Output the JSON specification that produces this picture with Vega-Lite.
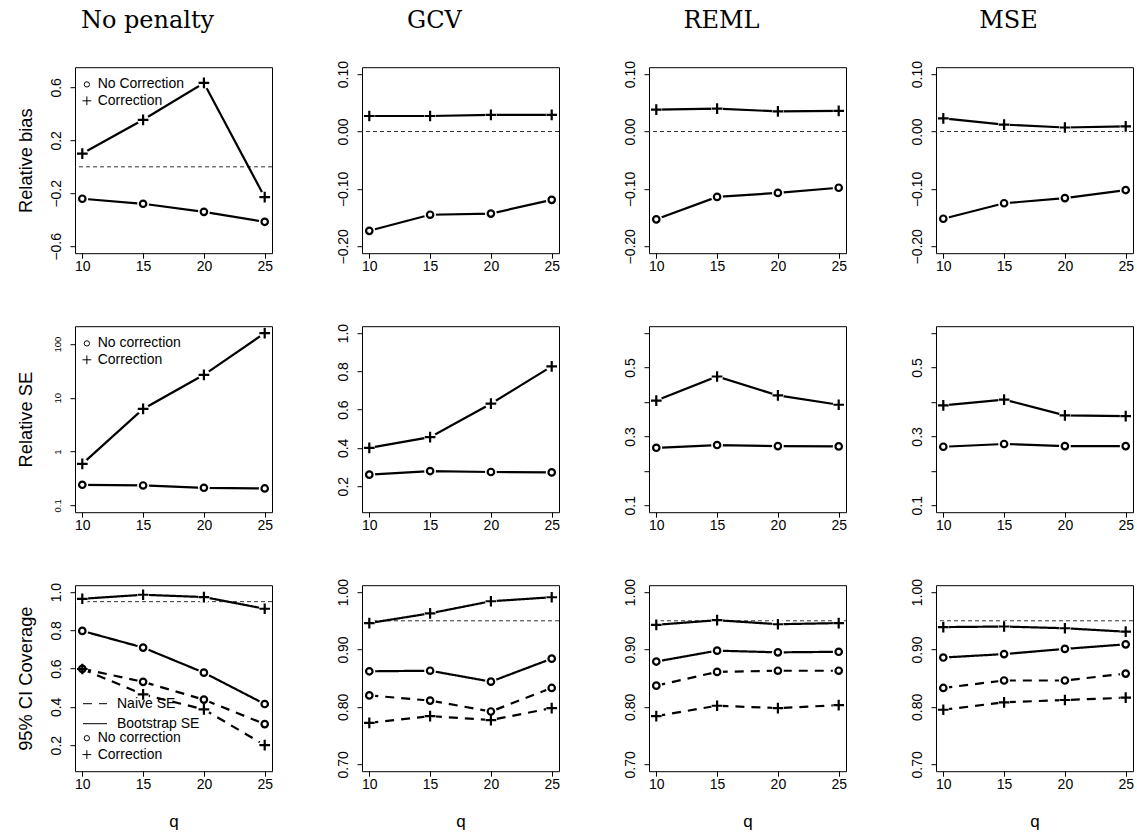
{
"$schema":"https://vega.github.io/schema/vega-lite/v6.json",
"padding":{"left":15,"top":7.2,"right":6,"bottom":3},
"data":{"values":[
{"measure":"bias","method":"No penalty","q":10,"value":-0.241,"corr":"No correction","se":"Bootstrap SE"},
{"measure":"bias","method":"No penalty","q":15,"value":-0.279,"corr":"No correction","se":"Bootstrap SE"},
{"measure":"bias","method":"No penalty","q":20,"value":-0.340,"corr":"No correction","se":"Bootstrap SE"},
{"measure":"bias","method":"No penalty","q":25,"value":-0.415,"corr":"No correction","se":"Bootstrap SE"},
{"measure":"bias","method":"No penalty","q":10,"value":0.100,"corr":"Correction","se":"Bootstrap SE"},
{"measure":"bias","method":"No penalty","q":15,"value":0.355,"corr":"Correction","se":"Bootstrap SE"},
{"measure":"bias","method":"No penalty","q":20,"value":0.633,"corr":"Correction","se":"Bootstrap SE"},
{"measure":"bias","method":"No penalty","q":25,"value":-0.229,"corr":"Correction","se":"Bootstrap SE"},
{"measure":"bias","method":"GCV","q":10,"value":-0.173,"corr":"No correction","se":"Bootstrap SE"},
{"measure":"bias","method":"GCV","q":15,"value":-0.145,"corr":"No correction","se":"Bootstrap SE"},
{"measure":"bias","method":"GCV","q":20,"value":-0.143,"corr":"No correction","se":"Bootstrap SE"},
{"measure":"bias","method":"GCV","q":25,"value":-0.119,"corr":"No correction","se":"Bootstrap SE"},
{"measure":"bias","method":"GCV","q":10,"value":0.027,"corr":"Correction","se":"Bootstrap SE"},
{"measure":"bias","method":"GCV","q":15,"value":0.027,"corr":"Correction","se":"Bootstrap SE"},
{"measure":"bias","method":"GCV","q":20,"value":0.029,"corr":"Correction","se":"Bootstrap SE"},
{"measure":"bias","method":"GCV","q":25,"value":0.029,"corr":"Correction","se":"Bootstrap SE"},
{"measure":"bias","method":"REML","q":10,"value":-0.153,"corr":"No correction","se":"Bootstrap SE"},
{"measure":"bias","method":"REML","q":15,"value":-0.114,"corr":"No correction","se":"Bootstrap SE"},
{"measure":"bias","method":"REML","q":20,"value":-0.107,"corr":"No correction","se":"Bootstrap SE"},
{"measure":"bias","method":"REML","q":25,"value":-0.098,"corr":"No correction","se":"Bootstrap SE"},
{"measure":"bias","method":"REML","q":10,"value":0.038,"corr":"Correction","se":"Bootstrap SE"},
{"measure":"bias","method":"REML","q":15,"value":0.040,"corr":"Correction","se":"Bootstrap SE"},
{"measure":"bias","method":"REML","q":20,"value":0.035,"corr":"Correction","se":"Bootstrap SE"},
{"measure":"bias","method":"REML","q":25,"value":0.036,"corr":"Correction","se":"Bootstrap SE"},
{"measure":"bias","method":"MSE","q":10,"value":-0.152,"corr":"No correction","se":"Bootstrap SE"},
{"measure":"bias","method":"MSE","q":15,"value":-0.125,"corr":"No correction","se":"Bootstrap SE"},
{"measure":"bias","method":"MSE","q":20,"value":-0.116,"corr":"No correction","se":"Bootstrap SE"},
{"measure":"bias","method":"MSE","q":25,"value":-0.102,"corr":"No correction","se":"Bootstrap SE"},
{"measure":"bias","method":"MSE","q":10,"value":0.023,"corr":"Correction","se":"Bootstrap SE"},
{"measure":"bias","method":"MSE","q":15,"value":0.012,"corr":"Correction","se":"Bootstrap SE"},
{"measure":"bias","method":"MSE","q":20,"value":0.007,"corr":"Correction","se":"Bootstrap SE"},
{"measure":"bias","method":"MSE","q":25,"value":0.009,"corr":"Correction","se":"Bootstrap SE"},
{"measure":"se","method":"No penalty","q":10,"value":0.241,"corr":"No correction","se":"Bootstrap SE"},
{"measure":"se","method":"No penalty","q":15,"value":0.234,"corr":"No correction","se":"Bootstrap SE"},
{"measure":"se","method":"No penalty","q":20,"value":0.212,"corr":"No correction","se":"Bootstrap SE"},
{"measure":"se","method":"No penalty","q":25,"value":0.206,"corr":"No correction","se":"Bootstrap SE"},
{"measure":"se","method":"No penalty","q":10,"value":0.589,"corr":"Correction","se":"Bootstrap SE"},
{"measure":"se","method":"No penalty","q":15,"value":6.21,"corr":"Correction","se":"Bootstrap SE"},
{"measure":"se","method":"No penalty","q":20,"value":26.8,"corr":"Correction","se":"Bootstrap SE"},
{"measure":"se","method":"No penalty","q":25,"value":160,"corr":"Correction","se":"Bootstrap SE"},
{"measure":"se","method":"GCV","q":10,"value":0.260,"corr":"No correction","se":"Bootstrap SE"},
{"measure":"se","method":"GCV","q":15,"value":0.279,"corr":"No correction","se":"Bootstrap SE"},
{"measure":"se","method":"GCV","q":20,"value":0.274,"corr":"No correction","se":"Bootstrap SE"},
{"measure":"se","method":"GCV","q":25,"value":0.272,"corr":"No correction","se":"Bootstrap SE"},
{"measure":"se","method":"GCV","q":10,"value":0.400,"corr":"Correction","se":"Bootstrap SE"},
{"measure":"se","method":"GCV","q":15,"value":0.456,"corr":"Correction","se":"Bootstrap SE"},
{"measure":"se","method":"GCV","q":20,"value":0.631,"corr":"Correction","se":"Bootstrap SE"},
{"measure":"se","method":"GCV","q":25,"value":0.826,"corr":"Correction","se":"Bootstrap SE"},
{"measure":"se","method":"REML","q":10,"value":0.267,"corr":"No correction","se":"Bootstrap SE"},
{"measure":"se","method":"REML","q":15,"value":0.275,"corr":"No correction","se":"Bootstrap SE"},
{"measure":"se","method":"REML","q":20,"value":0.272,"corr":"No correction","se":"Bootstrap SE"},
{"measure":"se","method":"REML","q":25,"value":0.271,"corr":"No correction","se":"Bootstrap SE"},
{"measure":"se","method":"REML","q":10,"value":0.404,"corr":"Correction","se":"Bootstrap SE"},
{"measure":"se","method":"REML","q":15,"value":0.474,"corr":"Correction","se":"Bootstrap SE"},
{"measure":"se","method":"REML","q":20,"value":0.419,"corr":"Correction","se":"Bootstrap SE"},
{"measure":"se","method":"REML","q":25,"value":0.392,"corr":"Correction","se":"Bootstrap SE"},
{"measure":"se","method":"MSE","q":10,"value":0.270,"corr":"No correction","se":"Bootstrap SE"},
{"measure":"se","method":"MSE","q":15,"value":0.278,"corr":"No correction","se":"Bootstrap SE"},
{"measure":"se","method":"MSE","q":20,"value":0.272,"corr":"No correction","se":"Bootstrap SE"},
{"measure":"se","method":"MSE","q":25,"value":0.272,"corr":"No correction","se":"Bootstrap SE"},
{"measure":"se","method":"MSE","q":10,"value":0.390,"corr":"Correction","se":"Bootstrap SE"},
{"measure":"se","method":"MSE","q":15,"value":0.407,"corr":"Correction","se":"Bootstrap SE"},
{"measure":"se","method":"MSE","q":20,"value":0.361,"corr":"Correction","se":"Bootstrap SE"},
{"measure":"se","method":"MSE","q":25,"value":0.359,"corr":"Correction","se":"Bootstrap SE"},
{"measure":"cov","method":"No penalty","q":10,"value":0.965,"corr":"Correction","se":"Bootstrap SE"},
{"measure":"cov","method":"No penalty","q":15,"value":0.986,"corr":"Correction","se":"Bootstrap SE"},
{"measure":"cov","method":"No penalty","q":20,"value":0.974,"corr":"Correction","se":"Bootstrap SE"},
{"measure":"cov","method":"No penalty","q":25,"value":0.913,"corr":"Correction","se":"Bootstrap SE"},
{"measure":"cov","method":"No penalty","q":10,"value":0.797,"corr":"No correction","se":"Bootstrap SE"},
{"measure":"cov","method":"No penalty","q":15,"value":0.710,"corr":"No correction","se":"Bootstrap SE"},
{"measure":"cov","method":"No penalty","q":20,"value":0.579,"corr":"No correction","se":"Bootstrap SE"},
{"measure":"cov","method":"No penalty","q":25,"value":0.415,"corr":"No correction","se":"Bootstrap SE"},
{"measure":"cov","method":"No penalty","q":10,"value":0.599,"corr":"No correction","se":"Naive SE"},
{"measure":"cov","method":"No penalty","q":15,"value":0.531,"corr":"No correction","se":"Naive SE"},
{"measure":"cov","method":"No penalty","q":20,"value":0.438,"corr":"No correction","se":"Naive SE"},
{"measure":"cov","method":"No penalty","q":25,"value":0.310,"corr":"No correction","se":"Naive SE"},
{"measure":"cov","method":"No penalty","q":10,"value":0.598,"corr":"Correction","se":"Naive SE"},
{"measure":"cov","method":"No penalty","q":15,"value":0.465,"corr":"Correction","se":"Naive SE"},
{"measure":"cov","method":"No penalty","q":20,"value":0.387,"corr":"Correction","se":"Naive SE"},
{"measure":"cov","method":"No penalty","q":25,"value":0.200,"corr":"Correction","se":"Naive SE"},
{"measure":"cov","method":"GCV","q":10,"value":0.946,"corr":"Correction","se":"Bootstrap SE"},
{"measure":"cov","method":"GCV","q":15,"value":0.963,"corr":"Correction","se":"Bootstrap SE"},
{"measure":"cov","method":"GCV","q":20,"value":0.984,"corr":"Correction","se":"Bootstrap SE"},
{"measure":"cov","method":"GCV","q":25,"value":0.991,"corr":"Correction","se":"Bootstrap SE"},
{"measure":"cov","method":"GCV","q":10,"value":0.862,"corr":"No correction","se":"Bootstrap SE"},
{"measure":"cov","method":"GCV","q":15,"value":0.863,"corr":"No correction","se":"Bootstrap SE"},
{"measure":"cov","method":"GCV","q":20,"value":0.844,"corr":"No correction","se":"Bootstrap SE"},
{"measure":"cov","method":"GCV","q":25,"value":0.884,"corr":"No correction","se":"Bootstrap SE"},
{"measure":"cov","method":"GCV","q":10,"value":0.820,"corr":"No correction","se":"Naive SE"},
{"measure":"cov","method":"GCV","q":15,"value":0.811,"corr":"No correction","se":"Naive SE"},
{"measure":"cov","method":"GCV","q":20,"value":0.792,"corr":"No correction","se":"Naive SE"},
{"measure":"cov","method":"GCV","q":25,"value":0.833,"corr":"No correction","se":"Naive SE"},
{"measure":"cov","method":"GCV","q":10,"value":0.772,"corr":"Correction","se":"Naive SE"},
{"measure":"cov","method":"GCV","q":15,"value":0.784,"corr":"Correction","se":"Naive SE"},
{"measure":"cov","method":"GCV","q":20,"value":0.777,"corr":"Correction","se":"Naive SE"},
{"measure":"cov","method":"GCV","q":25,"value":0.798,"corr":"Correction","se":"Naive SE"},
{"measure":"cov","method":"REML","q":10,"value":0.943,"corr":"Correction","se":"Bootstrap SE"},
{"measure":"cov","method":"REML","q":15,"value":0.951,"corr":"Correction","se":"Bootstrap SE"},
{"measure":"cov","method":"REML","q":20,"value":0.944,"corr":"Correction","se":"Bootstrap SE"},
{"measure":"cov","method":"REML","q":25,"value":0.946,"corr":"Correction","se":"Bootstrap SE"},
{"measure":"cov","method":"REML","q":10,"value":0.879,"corr":"No correction","se":"Bootstrap SE"},
{"measure":"cov","method":"REML","q":15,"value":0.898,"corr":"No correction","se":"Bootstrap SE"},
{"measure":"cov","method":"REML","q":20,"value":0.895,"corr":"No correction","se":"Bootstrap SE"},
{"measure":"cov","method":"REML","q":25,"value":0.896,"corr":"No correction","se":"Bootstrap SE"},
{"measure":"cov","method":"REML","q":10,"value":0.837,"corr":"No correction","se":"Naive SE"},
{"measure":"cov","method":"REML","q":15,"value":0.861,"corr":"No correction","se":"Naive SE"},
{"measure":"cov","method":"REML","q":20,"value":0.863,"corr":"No correction","se":"Naive SE"},
{"measure":"cov","method":"REML","q":25,"value":0.863,"corr":"No correction","se":"Naive SE"},
{"measure":"cov","method":"REML","q":10,"value":0.784,"corr":"Correction","se":"Naive SE"},
{"measure":"cov","method":"REML","q":15,"value":0.802,"corr":"Correction","se":"Naive SE"},
{"measure":"cov","method":"REML","q":20,"value":0.798,"corr":"Correction","se":"Naive SE"},
{"measure":"cov","method":"REML","q":25,"value":0.803,"corr":"Correction","se":"Naive SE"},
{"measure":"cov","method":"MSE","q":10,"value":0.939,"corr":"Correction","se":"Bootstrap SE"},
{"measure":"cov","method":"MSE","q":15,"value":0.940,"corr":"Correction","se":"Bootstrap SE"},
{"measure":"cov","method":"MSE","q":20,"value":0.937,"corr":"Correction","se":"Bootstrap SE"},
{"measure":"cov","method":"MSE","q":25,"value":0.931,"corr":"Correction","se":"Bootstrap SE"},
{"measure":"cov","method":"MSE","q":10,"value":0.886,"corr":"No correction","se":"Bootstrap SE"},
{"measure":"cov","method":"MSE","q":15,"value":0.892,"corr":"No correction","se":"Bootstrap SE"},
{"measure":"cov","method":"MSE","q":20,"value":0.901,"corr":"No correction","se":"Bootstrap SE"},
{"measure":"cov","method":"MSE","q":25,"value":0.909,"corr":"No correction","se":"Bootstrap SE"},
{"measure":"cov","method":"MSE","q":10,"value":0.833,"corr":"No correction","se":"Naive SE"},
{"measure":"cov","method":"MSE","q":15,"value":0.846,"corr":"No correction","se":"Naive SE"},
{"measure":"cov","method":"MSE","q":20,"value":0.846,"corr":"No correction","se":"Naive SE"},
{"measure":"cov","method":"MSE","q":25,"value":0.858,"corr":"No correction","se":"Naive SE"},
{"measure":"cov","method":"MSE","q":10,"value":0.795,"corr":"Correction","se":"Naive SE"},
{"measure":"cov","method":"MSE","q":15,"value":0.808,"corr":"Correction","se":"Naive SE"},
{"measure":"cov","method":"MSE","q":20,"value":0.812,"corr":"Correction","se":"Naive SE"},
{"measure":"cov","method":"MSE","q":25,"value":0.816,"corr":"Correction","se":"Naive SE"}
]},
"columns":4,
"spacing":{"row":73,"column":90},
"bounds":"flush",
"resolve":{"scale":{"x":"independent","y":"independent","shape":"independent","strokeDash":"independent"},"legend":{"shape":"independent","strokeDash":"independent"}},
"concat":[
{"width":197,"height":186,"title":{"text":"No penalty","offset":34.5},"layer":[
 {"data":{"values":[{}]},"mark":{"type":"rule","strokeDash":[4,3],"strokeWidth":1,"color":"#333"},"encoding":{"y":{"datum":0}}},
 {"transform":[{"filter":"datum.measure=='bias' && datum.method=='No penalty'"}],
  "encoding":{"x":{"field":"q","type":"quantitative","scale":{"domain":[9.4,25.6],"nice":false,"zero":false},"axis":{"values":[10,15,20,25],"title":null}},
   "y":{"field":"value","type":"quantitative","scale":{"domain":[-0.652,0.752],"nice":false,"zero":false},"axis":{"values":[-0.6,-0.4,-0.2,0,0.2,0.4,0.6],"format":".1f","labelExpr":"(datum.value==-0.4||datum.value==0||datum.value==0.4)?'':datum.label","title":"Relative bias"}}},
  "layer":[
   {"mark":{"type":"line","color":"black","strokeWidth":2.2},"encoding":{"detail":{"field":"corr"}}},
   {"mark":{"type":"circle","color":"white","size":140,"opacity":1}},
   {"mark":{"type":"point","filled":false,"color":"black","strokeWidth":2.2,"size":42,"opacity":1},"encoding":{"shape":{"field":"corr","type":"nominal","scale":{"domain":["No correction","Correction"],"range":["circle","M-1.65,0L1.65,0M0,-1.65L0,1.65"]},"legend":{"title":null,"orient":"none","legendX":4.85,"legendY":10.2,"labelOffset":3.85,"labelExpr":"datum.label=='No correction'?'No Correction':datum.label"}}}}
  ]}
]},
{"width":197,"height":186,"title":{"text":"GCV","offset":27.8},"layer":[
 {"data":{"values":[{}]},"mark":{"type":"rule","strokeDash":[4,3],"strokeWidth":1,"color":"#333"},"encoding":{"y":{"datum":0}}},
 {"transform":[{"filter":"datum.measure=='bias' && datum.method=='GCV'"}],
  "encoding":{"x":{"field":"q","type":"quantitative","scale":{"domain":[9.4,25.6],"nice":false,"zero":false},"axis":{"values":[10,15,20,25],"title":null}},
   "y":{"field":"value","type":"quantitative","scale":{"domain":[-0.212,0.112],"nice":false,"zero":false},"axis":{"values":[-0.2,-0.15,-0.1,-0.05,0,0.05,0.1],"format":".2f","labelExpr":"(datum.value==-0.15||datum.value==-0.05||datum.value==0.05)?'':datum.label","title":null}}},
  "layer":[
   {"mark":{"type":"line","color":"black","strokeWidth":2.2},"encoding":{"detail":{"field":"corr"}}},
   {"mark":{"type":"circle","color":"white","size":140,"opacity":1}},
   {"mark":{"type":"point","filled":false,"color":"black","strokeWidth":2.2,"size":42,"opacity":1},"encoding":{"shape":{"field":"corr","type":"nominal","scale":{"domain":["No correction","Correction"],"range":["circle","M-1.65,0L1.65,0M0,-1.65L0,1.65"]},"legend":null}}}
  ]}
]},
{"width":197,"height":186,"title":{"text":"REML","offset":27.8},"layer":[
 {"data":{"values":[{}]},"mark":{"type":"rule","strokeDash":[4,3],"strokeWidth":1,"color":"#333"},"encoding":{"y":{"datum":0}}},
 {"transform":[{"filter":"datum.measure=='bias' && datum.method=='REML'"}],
  "encoding":{"x":{"field":"q","type":"quantitative","scale":{"domain":[9.4,25.6],"nice":false,"zero":false},"axis":{"values":[10,15,20,25],"title":null}},
   "y":{"field":"value","type":"quantitative","scale":{"domain":[-0.212,0.112],"nice":false,"zero":false},"axis":{"values":[-0.2,-0.15,-0.1,-0.05,0,0.05,0.1],"format":".2f","labelExpr":"(datum.value==-0.15||datum.value==-0.05||datum.value==0.05)?'':datum.label","title":null}}},
  "layer":[
   {"mark":{"type":"line","color":"black","strokeWidth":2.2},"encoding":{"detail":{"field":"corr"}}},
   {"mark":{"type":"circle","color":"white","size":140,"opacity":1}},
   {"mark":{"type":"point","filled":false,"color":"black","strokeWidth":2.2,"size":42,"opacity":1},"encoding":{"shape":{"field":"corr","type":"nominal","scale":{"domain":["No correction","Correction"],"range":["circle","M-1.65,0L1.65,0M0,-1.65L0,1.65"]},"legend":null}}}
  ]}
]},
{"width":197,"height":186,"title":{"text":"MSE","offset":27.8},"layer":[
 {"data":{"values":[{}]},"mark":{"type":"rule","strokeDash":[4,3],"strokeWidth":1,"color":"#333"},"encoding":{"y":{"datum":0}}},
 {"transform":[{"filter":"datum.measure=='bias' && datum.method=='MSE'"}],
  "encoding":{"x":{"field":"q","type":"quantitative","scale":{"domain":[9.4,25.6],"nice":false,"zero":false},"axis":{"values":[10,15,20,25],"title":null}},
   "y":{"field":"value","type":"quantitative","scale":{"domain":[-0.212,0.112],"nice":false,"zero":false},"axis":{"values":[-0.2,-0.15,-0.1,-0.05,0,0.05,0.1],"format":".2f","labelExpr":"(datum.value==-0.15||datum.value==-0.05||datum.value==0.05)?'':datum.label","title":null}}},
  "layer":[
   {"mark":{"type":"line","color":"black","strokeWidth":2.2},"encoding":{"detail":{"field":"corr"}}},
   {"mark":{"type":"circle","color":"white","size":140,"opacity":1}},
   {"mark":{"type":"point","filled":false,"color":"black","strokeWidth":2.2,"size":42,"opacity":1},"encoding":{"shape":{"field":"corr","type":"nominal","scale":{"domain":["No correction","Correction"],"range":["circle","M-1.65,0L1.65,0M0,-1.65L0,1.65"]},"legend":null}}}
  ]}
]},
{"width":197,"height":186,"transform":[{"filter":"datum.measure=='se' && datum.method=='No penalty'"}],
  "encoding":{"x":{"field":"q","type":"quantitative","scale":{"domain":[9.4,25.6],"nice":false,"zero":false},"axis":{"values":[10,15,20,25],"title":null}},
   "y":{"field":"value","type":"quantitative","scale":{"type":"log","domain":[0.0745,214.8],"nice":false,"zero":false},"axis":{"values":[0.1,1,10,100],"format":"~g","labelFontSize":9.5,"title":"Relative SE"}}},
  "layer":[
   {"mark":{"type":"line","color":"black","strokeWidth":2.2},"encoding":{"detail":{"field":"corr"}}},
   {"mark":{"type":"circle","color":"white","size":140,"opacity":1}},
   {"mark":{"type":"point","filled":false,"color":"black","strokeWidth":2.2,"size":42,"opacity":1},"encoding":{"shape":{"field":"corr","type":"nominal","scale":{"domain":["No correction","Correction"],"range":["circle","M-1.65,0L1.65,0M0,-1.65L0,1.65"]},"legend":{"title":null,"orient":"none","legendX":4.85,"legendY":10.2,"labelOffset":3.85}}}}
  ]},
{"width":197,"height":186,"transform":[{"filter":"datum.measure=='se' && datum.method=='GCV'"}],
  "encoding":{"x":{"field":"q","type":"quantitative","scale":{"domain":[9.4,25.6],"nice":false,"zero":false},"axis":{"values":[10,15,20,25],"title":null}},
   "y":{"field":"value","type":"quantitative","scale":{"domain":[0.064,1.036],"nice":false,"zero":false},"axis":{"values":[0.2,0.4,0.6,0.8,1.0],"format":".1f","title":null}}},
  "layer":[
   {"mark":{"type":"line","color":"black","strokeWidth":2.2},"encoding":{"detail":{"field":"corr"}}},
   {"mark":{"type":"circle","color":"white","size":140,"opacity":1}},
   {"mark":{"type":"point","filled":false,"color":"black","strokeWidth":2.2,"size":42,"opacity":1},"encoding":{"shape":{"field":"corr","type":"nominal","scale":{"domain":["No correction","Correction"],"range":["circle","M-1.65,0L1.65,0M0,-1.65L0,1.65"]},"legend":null}}}
  ]},
{"width":197,"height":186,"transform":[{"filter":"datum.measure=='se' && datum.method=='REML'"}],
  "encoding":{"x":{"field":"q","type":"quantitative","scale":{"domain":[9.4,25.6],"nice":false,"zero":false},"axis":{"values":[10,15,20,25],"title":null}},
   "y":{"field":"value","type":"quantitative","scale":{"domain":[0.08,0.62],"nice":false,"zero":false},"axis":{"values":[0.1,0.2,0.3,0.4,0.5,0.6],"format":".1f","labelExpr":"(datum.value==0.2||datum.value==0.4||datum.value==0.6)?'':datum.label","title":null}}},
  "layer":[
   {"mark":{"type":"line","color":"black","strokeWidth":2.2},"encoding":{"detail":{"field":"corr"}}},
   {"mark":{"type":"circle","color":"white","size":140,"opacity":1}},
   {"mark":{"type":"point","filled":false,"color":"black","strokeWidth":2.2,"size":42,"opacity":1},"encoding":{"shape":{"field":"corr","type":"nominal","scale":{"domain":["No correction","Correction"],"range":["circle","M-1.65,0L1.65,0M0,-1.65L0,1.65"]},"legend":null}}}
  ]},
{"width":197,"height":186,"transform":[{"filter":"datum.measure=='se' && datum.method=='MSE'"}],
  "encoding":{"x":{"field":"q","type":"quantitative","scale":{"domain":[9.4,25.6],"nice":false,"zero":false},"axis":{"values":[10,15,20,25],"title":null}},
   "y":{"field":"value","type":"quantitative","scale":{"domain":[0.08,0.62],"nice":false,"zero":false},"axis":{"values":[0.1,0.2,0.3,0.4,0.5,0.6],"format":".1f","labelExpr":"(datum.value==0.2||datum.value==0.4||datum.value==0.6)?'':datum.label","title":null}}},
  "layer":[
   {"mark":{"type":"line","color":"black","strokeWidth":2.2},"encoding":{"detail":{"field":"corr"}}},
   {"mark":{"type":"circle","color":"white","size":140,"opacity":1}},
   {"mark":{"type":"point","filled":false,"color":"black","strokeWidth":2.2,"size":42,"opacity":1},"encoding":{"shape":{"field":"corr","type":"nominal","scale":{"domain":["No correction","Correction"],"range":["circle","M-1.65,0L1.65,0M0,-1.65L0,1.65"]},"legend":null}}}
  ]},
{"width":197,"height":186,"layer":[
 {"data":{"values":[{}]},"mark":{"type":"rule","strokeDash":[4,3],"strokeWidth":1,"color":"#333"},"encoding":{"y":{"datum":0.95}}},
 {"transform":[{"filter":"datum.measure=='cov' && datum.method=='No penalty'"}],
  "encoding":{"x":{"field":"q","type":"quantitative","scale":{"domain":[9.4,25.6],"nice":false,"zero":false},"axis":{"values":[10,15,20,25],"title":"q"}},
   "y":{"field":"value","type":"quantitative","scale":{"domain":[0.064,1.036],"nice":false,"zero":false},"axis":{"values":[0.2,0.4,0.6,0.8,1.0],"format":".1f","title":"95% CI Coverage"}}},
  "layer":[
   {"mark":{"type":"line","color":"black","strokeWidth":2.2},"encoding":{"detail":{"field":"corr"},"strokeDash":{"field":"se","type":"nominal","scale":{"domain":["Naive SE","Bootstrap SE"],"range":[[9,7],[1,0]]},"legend":{"title":null,"orient":"none","legendX":7.5,"legendY":106,"labelOffset":9.5,"rowPadding":-10,"symbolType":"stroke","symbolSize":576}}}},
   {"mark":{"type":"circle","color":"white","size":140,"opacity":1}},
   {"mark":{"type":"point","filled":false,"color":"black","strokeWidth":2.2,"size":42,"opacity":1},"encoding":{"shape":{"field":"corr","type":"nominal","scale":{"domain":["No correction","Correction"],"range":["circle","M-1.65,0L1.65,0M0,-1.65L0,1.65"]},"legend":{"title":null,"orient":"none","legendX":4.85,"legendY":146,"labelOffset":3.85}}}}
  ]}
]},
{"width":197,"height":186,"layer":[
 {"data":{"values":[{}]},"mark":{"type":"rule","strokeDash":[4,3],"strokeWidth":1,"color":"#333"},"encoding":{"y":{"datum":0.95}}},
 {"transform":[{"filter":"datum.measure=='cov' && datum.method=='GCV'"}],
  "encoding":{"x":{"field":"q","type":"quantitative","scale":{"domain":[9.4,25.6],"nice":false,"zero":false},"axis":{"values":[10,15,20,25],"title":"q"}},
   "y":{"field":"value","type":"quantitative","scale":{"domain":[0.688,1.012],"nice":false,"zero":false},"axis":{"values":[0.7,0.75,0.8,0.85,0.9,0.95,1.0],"format":".2f","labelExpr":"(datum.value==0.75||datum.value==0.85||datum.value==0.95)?'':datum.label","title":null}}},
  "layer":[
   {"mark":{"type":"line","color":"black","strokeWidth":2.2},"encoding":{"detail":{"field":"corr"},"strokeDash":{"field":"se","type":"nominal","scale":{"domain":["Naive SE","Bootstrap SE"],"range":[[9,7],[1,0]]},"legend":null}}},
   {"mark":{"type":"circle","color":"white","size":140,"opacity":1}},
   {"mark":{"type":"point","filled":false,"color":"black","strokeWidth":2.2,"size":42,"opacity":1},"encoding":{"shape":{"field":"corr","type":"nominal","scale":{"domain":["No correction","Correction"],"range":["circle","M-1.65,0L1.65,0M0,-1.65L0,1.65"]},"legend":null}}}
  ]}
]},
{"width":197,"height":186,"layer":[
 {"data":{"values":[{}]},"mark":{"type":"rule","strokeDash":[4,3],"strokeWidth":1,"color":"#333"},"encoding":{"y":{"datum":0.95}}},
 {"transform":[{"filter":"datum.measure=='cov' && datum.method=='REML'"}],
  "encoding":{"x":{"field":"q","type":"quantitative","scale":{"domain":[9.4,25.6],"nice":false,"zero":false},"axis":{"values":[10,15,20,25],"title":"q"}},
   "y":{"field":"value","type":"quantitative","scale":{"domain":[0.688,1.012],"nice":false,"zero":false},"axis":{"values":[0.7,0.75,0.8,0.85,0.9,0.95,1.0],"format":".2f","labelExpr":"(datum.value==0.75||datum.value==0.85||datum.value==0.95)?'':datum.label","title":null}}},
  "layer":[
   {"mark":{"type":"line","color":"black","strokeWidth":2.2},"encoding":{"detail":{"field":"corr"},"strokeDash":{"field":"se","type":"nominal","scale":{"domain":["Naive SE","Bootstrap SE"],"range":[[9,7],[1,0]]},"legend":null}}},
   {"mark":{"type":"circle","color":"white","size":140,"opacity":1}},
   {"mark":{"type":"point","filled":false,"color":"black","strokeWidth":2.2,"size":42,"opacity":1},"encoding":{"shape":{"field":"corr","type":"nominal","scale":{"domain":["No correction","Correction"],"range":["circle","M-1.65,0L1.65,0M0,-1.65L0,1.65"]},"legend":null}}}
  ]}
]},
{"width":197,"height":186,"layer":[
 {"data":{"values":[{}]},"mark":{"type":"rule","strokeDash":[4,3],"strokeWidth":1,"color":"#333"},"encoding":{"y":{"datum":0.95}}},
 {"transform":[{"filter":"datum.measure=='cov' && datum.method=='MSE'"}],
  "encoding":{"x":{"field":"q","type":"quantitative","scale":{"domain":[9.4,25.6],"nice":false,"zero":false},"axis":{"values":[10,15,20,25],"title":"q"}},
   "y":{"field":"value","type":"quantitative","scale":{"domain":[0.688,1.012],"nice":false,"zero":false},"axis":{"values":[0.7,0.75,0.8,0.85,0.9,0.95,1.0],"format":".2f","labelExpr":"(datum.value==0.75||datum.value==0.85||datum.value==0.95)?'':datum.label","title":null}}},
  "layer":[
   {"mark":{"type":"line","color":"black","strokeWidth":2.2},"encoding":{"detail":{"field":"corr"},"strokeDash":{"field":"se","type":"nominal","scale":{"domain":["Naive SE","Bootstrap SE"],"range":[[9,7],[1,0]]},"legend":null}}},
   {"mark":{"type":"circle","color":"white","size":140,"opacity":1}},
   {"mark":{"type":"point","filled":false,"color":"black","strokeWidth":2.2,"size":42,"opacity":1},"encoding":{"shape":{"field":"corr","type":"nominal","scale":{"domain":["No correction","Correction"],"range":["circle","M-1.65,0L1.65,0M0,-1.65L0,1.65"]},"legend":null}}}
  ]}
]}
],
"config":{
 "background":"white",
 "font":"Liberation Sans",
 "view":{"stroke":"black","strokeWidth":1},
 "title":{"font":"DejaVu Serif","fontSize":24,"fontWeight":"normal","color":"black","anchor":"middle","frame":"group","dx":-26,"baseline":"alphabetic"},
 "axis":{"grid":false,"domain":false,"ticks":true,"tickColor":"black","tickSize":5,"tickWidth":1,"labelColor":"black","labelFont":"Liberation Sans","labelFontSize":14,"labelOverlap":false,"labelFlush":false,"titleFont":"Liberation Sans","titleFontWeight":"normal","titleColor":"black","titleFontSize":18.3},
 "axisX":{"labelBaseline":"top","labelPadding":1,"titleFontSize":17,"titleY":55,"titleBaseline":"alphabetic"},
 "axisY":{"labelAngle":270,"labelAlign":"center","labelBaseline":"alphabetic","labelPadding":9.5,"titleX":-44,"titleBaseline":"alphabetic","titleAngle":270},
 "legend":{"padding":0,"labelFont":"Liberation Sans","labelFontSize":14,"labelColor":"black","symbolSize":28,"symbolStrokeWidth":1,"symbolStrokeColor":"black","symbolFillColor":"transparent","rowPadding":2.4,"labelLimit":300}
}
}
